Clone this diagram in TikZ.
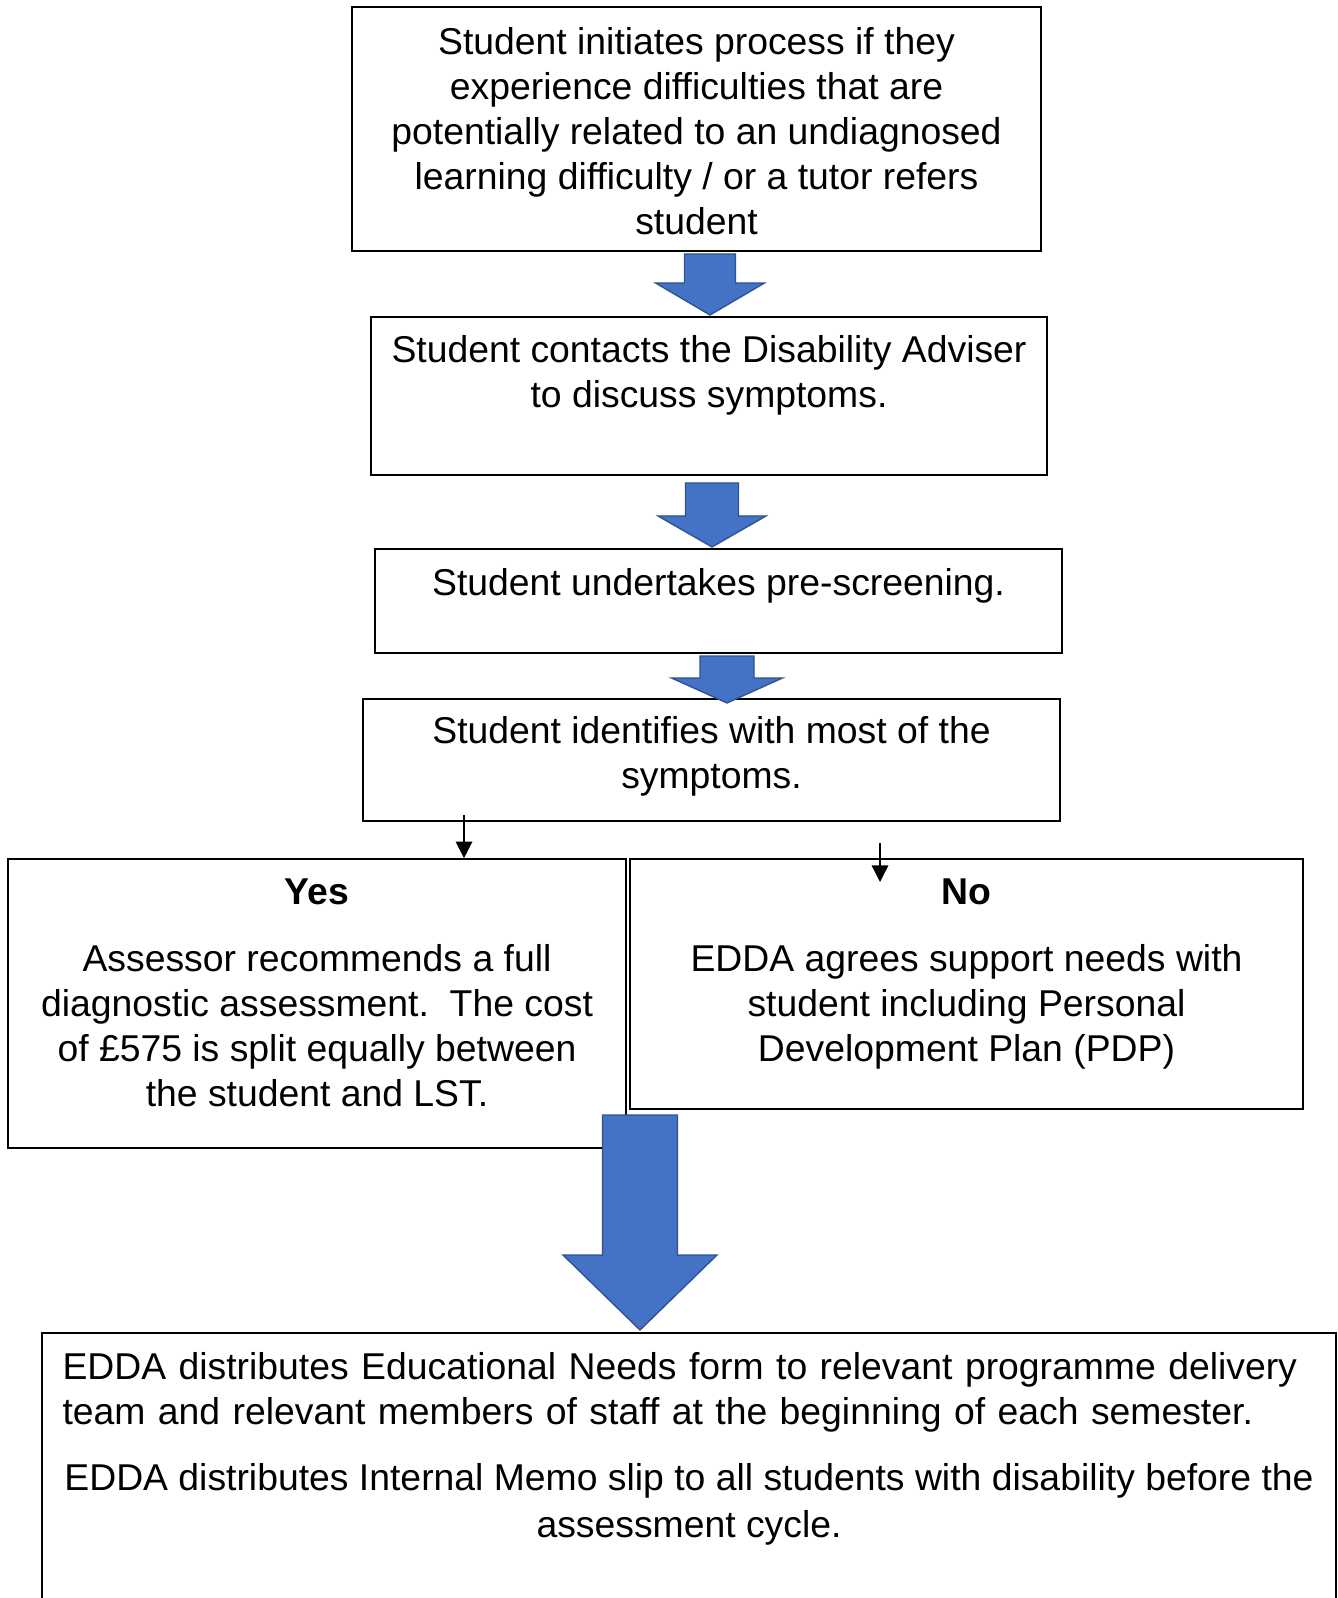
\documentclass[tikz,border=0pt]{standalone}
\usepackage{fontspec}
\setmainfont{Liberation Sans}
\usetikzlibrary{fit,positioning,arrows.meta}
\definecolor{arrowblue}{HTML}{4472C4}
\definecolor{arrowedge}{HTML}{2F528F}
\tikzset{
  box/.style={draw, line width=0.5pt, inner sep=0pt},
  txt/.style={inner sep=0pt, align=center, font=\fontsize{11.2}{13.5}\selectfont,
    execute at begin node=\strut},
  smallarrow/.style={-{Triangle[length=5pt,width=5pt]}, line width=0.4pt},
  blockarrow/.style={fill=arrowblue, draw=arrowedge, line width=0.4pt}
}
% block arrow: centre x, top, shoulder, tip, half body, half head
\newcommand{\downblock}[6]{%
  \draw[blockarrow] (#1-#5,#2) -- (#1+#5,#2) -- (#1+#5,#3) -- (#1+#6,#3)
    -- (#1,#4) -- (#1-#6,#3) -- (#1-#5,#3) -- cycle;}
\begin{document}
\begin{tikzpicture}[x=0.3pt,y=-0.3pt]
    \useasboundingbox (0,0) rectangle (1338,1598);
    % boxes
    \node[box, fit={(352,7) (1041,251)}] (start) {};
    \node[box, fit={(371,317) (1047,475)}] (contact) {};
    \node[box, fit={(375,549) (1062,653)}] (screen) {};
    \node[box, fit={(363,699) (1060,821)}] (ident) {};
    \node[box, fit={(8,859) (626,1148)}] (yes) {};
    \node[box, fit={(630,859) (1303,1109)}] (no) {};
    \node[box, fit={(42,1333) (1336,1640)}] (distrib) {};
    % texts
    \node[txt, below=6.15pt of start.north] (starttxt) {Student initiates process if they\\
      experience difficulties that are\\potentially related to an undiagnosed\\
      learning difficulty / or a tutor refers\\student};
    \node[txt, below=5.55pt of contact.north] (contacttxt) {Student contacts the Disability Adviser\\
      to discuss symptoms.};
    \node[txt, below=4.65pt of screen.north] (screentxt) {Student undertakes pre-screening.};
    \node[txt, below=5.25pt of ident.north] (identtxt) {Student identifies with most of the\\symptoms.};
    \node[txt, below=6pt of yes.north] (yestxt) {\textbf{Yes}\\[6.6pt]
      Assessor recommends a full\\diagnostic assessment.\ \ The cost\\
      of £575 is split equally between\\the student and LST.};
    \node[txt, below=5.85pt of no.north] (notxt) {\textbf{No}\\[6.6pt]
      EDDA agrees support needs with\\student including Personal\\
      Development Plan (PDP)};
    \node[txt, align=left, text width=375.9pt, below=4.6pt of distrib.north] (needstxt)
      {\makebox[375.9pt][s]{EDDA distributes Educational Needs form to relevant programme delivery}\\
      team and relevant members of staff at the beginning of each semester.};
    \node[txt, below=9pt of needstxt] (memotxt)
      {EDDA distributes Internal Memo slip to all students with disability before the\\[0.6pt]
      assessment cycle.};
    % block arrows
    \downblock{710}{254}{283}{315}{25.5}{54.5}
    \downblock{712}{483}{516}{547}{26.5}{54}
    \downblock{727}{656}{678}{703}{27}{55.5}
    \downblock{640}{1115}{1255}{1330}{37.5}{77}
    % yes / no arrows
    \coordinate (yesfrom) at (464,815);
    \coordinate (nofrom) at (880,843);
    \coordinate (noto) at (880,882);
    \draw[smallarrow] (yesfrom) -- (yesfrom |- yes.north);
    \draw[smallarrow] (nofrom) -- (noto);
\end{tikzpicture}
\end{document}
